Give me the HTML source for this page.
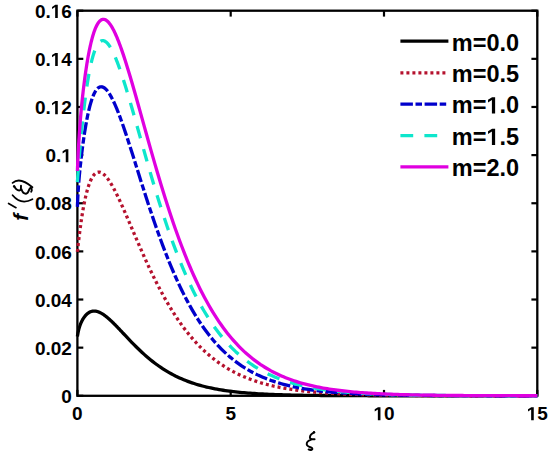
<!DOCTYPE html>
<html><head><meta charset="utf-8"><style>
html,body{margin:0;padding:0;background:#fff;}
svg{display:block;}
.tk{font-family:"Liberation Sans",sans-serif;font-weight:bold;font-size:19px;fill:#000;}
.one{fill:none;}
.lg{font-family:"Liberation Sans",sans-serif;font-weight:bold;font-size:23.5px;fill:#000;}
.xl{font-family:"Liberation Serif",serif;font-style:italic;font-size:21px;fill:#000;}
.yl{font-family:"Liberation Serif",serif;font-size:21px;fill:#000;}
</style></head><body>
<svg width="550" height="459" viewBox="0 0 550 459">
<rect width="550" height="459" fill="#fff"/>
<rect x="77.4" y="10.7" width="459.90" height="385.10" fill="none" stroke="#000" stroke-width="2.3"/>
<line x1="77.4" y1="395.80" x2="83.30000000000001" y2="395.80" stroke="#000" stroke-width="2.2"/>
<line x1="537.3" y1="395.80" x2="531.4" y2="395.80" stroke="#000" stroke-width="2.2"/>
<line x1="77.4" y1="347.66" x2="83.30000000000001" y2="347.66" stroke="#000" stroke-width="2.2"/>
<line x1="537.3" y1="347.66" x2="531.4" y2="347.66" stroke="#000" stroke-width="2.2"/>
<line x1="77.4" y1="299.52" x2="83.30000000000001" y2="299.52" stroke="#000" stroke-width="2.2"/>
<line x1="537.3" y1="299.52" x2="531.4" y2="299.52" stroke="#000" stroke-width="2.2"/>
<line x1="77.4" y1="251.39" x2="83.30000000000001" y2="251.39" stroke="#000" stroke-width="2.2"/>
<line x1="537.3" y1="251.39" x2="531.4" y2="251.39" stroke="#000" stroke-width="2.2"/>
<line x1="77.4" y1="203.25" x2="83.30000000000001" y2="203.25" stroke="#000" stroke-width="2.2"/>
<line x1="537.3" y1="203.25" x2="531.4" y2="203.25" stroke="#000" stroke-width="2.2"/>
<line x1="77.4" y1="155.11" x2="83.30000000000001" y2="155.11" stroke="#000" stroke-width="2.2"/>
<line x1="537.3" y1="155.11" x2="531.4" y2="155.11" stroke="#000" stroke-width="2.2"/>
<line x1="77.4" y1="106.97" x2="83.30000000000001" y2="106.97" stroke="#000" stroke-width="2.2"/>
<line x1="537.3" y1="106.97" x2="531.4" y2="106.97" stroke="#000" stroke-width="2.2"/>
<line x1="77.4" y1="58.84" x2="83.30000000000001" y2="58.84" stroke="#000" stroke-width="2.2"/>
<line x1="537.3" y1="58.84" x2="531.4" y2="58.84" stroke="#000" stroke-width="2.2"/>
<line x1="77.4" y1="10.70" x2="83.30000000000001" y2="10.70" stroke="#000" stroke-width="2.2"/>
<line x1="537.3" y1="10.70" x2="531.4" y2="10.70" stroke="#000" stroke-width="2.2"/>
<line x1="77.40" y1="395.8" x2="77.40" y2="389.90000000000003" stroke="#000" stroke-width="2.2"/>
<line x1="77.40" y1="10.7" x2="77.40" y2="16.6" stroke="#000" stroke-width="2.2"/>
<line x1="230.70" y1="395.8" x2="230.70" y2="389.90000000000003" stroke="#000" stroke-width="2.2"/>
<line x1="230.70" y1="10.7" x2="230.70" y2="16.6" stroke="#000" stroke-width="2.2"/>
<line x1="384.00" y1="395.8" x2="384.00" y2="389.90000000000003" stroke="#000" stroke-width="2.2"/>
<line x1="384.00" y1="10.7" x2="384.00" y2="16.6" stroke="#000" stroke-width="2.2"/>
<line x1="537.30" y1="395.8" x2="537.30" y2="389.90000000000003" stroke="#000" stroke-width="2.2"/>
<line x1="537.30" y1="10.7" x2="537.30" y2="16.6" stroke="#000" stroke-width="2.2"/>
<text x="71.9" y="403.00" text-anchor="end" class="tk">0</text>
<text x="71.9" y="354.86" text-anchor="end" class="tk">0.02</text>
<text x="71.9" y="306.72" text-anchor="end" class="tk">0.04</text>
<text x="71.9" y="258.59" text-anchor="end" class="tk">0.06</text>
<text x="71.9" y="210.45" text-anchor="end" class="tk">0.08</text>
<text x="71.9" y="162.31" text-anchor="end" class="tk">0.<tspan class="one">1</tspan></text>
<text x="71.9" y="114.17" text-anchor="end" class="tk">0.<tspan class="one">1</tspan>2</text>
<text x="71.9" y="66.04" text-anchor="end" class="tk">0.<tspan class="one">1</tspan>4</text>
<text x="71.9" y="17.90" text-anchor="end" class="tk">0.<tspan class="one">1</tspan>6</text>
<text x="77.40" y="420.3" text-anchor="middle" class="tk">0</text>
<text x="230.70" y="420.3" text-anchor="middle" class="tk">5</text>
<text x="384.00" y="420.3" text-anchor="middle" class="tk"><tspan class="one">1</tspan>0</text>
<text x="537.30" y="420.3" text-anchor="middle" class="tk"><tspan class="one">1</tspan>5</text>
<polyline points="77.40,336.61 77.48,336.09 77.55,335.58 77.63,335.10 77.71,334.63 77.78,334.17 77.86,333.74 77.94,333.31 78.01,332.90 78.09,332.51 78.17,332.12 78.24,331.75 78.32,331.39 78.40,331.04 78.47,330.70 78.55,330.36 78.63,330.04 78.70,329.73 78.78,329.42 78.86,329.12 78.93,328.83 79.01,328.55 79.09,328.27 79.16,328.00 79.24,327.74 79.32,327.48 79.39,327.23 79.47,326.98 79.55,326.74 79.62,326.50 79.70,326.27 79.78,326.04 79.85,325.82 79.93,325.60 80.01,325.38 80.08,325.17 80.16,324.96 80.24,324.75 80.31,324.55 80.39,324.36 80.47,324.16 80.90,323.12 81.32,322.17 81.75,321.28 82.18,320.45 82.61,319.67 83.04,318.94 83.47,318.25 83.90,317.61 84.33,317.00 84.76,316.43 85.19,315.90 85.62,315.40 86.05,314.93 86.48,314.49 86.90,314.09 87.33,313.71 87.76,313.36 88.19,313.04 88.62,312.75 89.05,312.48 89.48,312.24 89.91,312.02 90.34,311.83 90.77,311.66 91.20,311.51 91.63,311.38 92.06,311.28 92.48,311.20 92.91,311.14 93.34,311.09 93.77,311.07 94.20,311.07 94.63,311.08 95.06,311.11 95.49,311.16 95.92,311.22 96.35,311.31 96.78,311.40 97.21,311.51 97.64,311.64 98.06,311.78 98.49,311.94 98.92,312.10 99.35,312.28 99.78,312.48 100.21,312.68 100.64,312.90 101.07,313.13 101.50,313.37 101.93,313.62 102.36,313.88 102.79,314.15 103.22,314.43 103.64,314.71 104.07,315.01 104.50,315.32 104.93,315.63 105.36,315.95 105.79,316.28 106.22,316.62 106.65,316.97 107.08,317.32 107.51,317.67 107.94,318.04 108.37,318.41 108.80,318.78 109.23,319.16 109.65,319.55 110.08,319.94 110.51,320.34 110.94,320.74 111.37,321.14 111.80,321.55 112.23,321.96 112.66,322.38 113.09,322.80 113.52,323.22 113.95,323.65 114.38,324.08 114.81,324.51 115.23,324.95 115.66,325.39 116.09,325.83 116.52,326.27 116.95,326.71 117.38,327.16 117.81,327.61 118.24,328.05 118.67,328.50 119.10,328.96 119.53,329.41 119.96,329.86 120.39,330.32 120.81,330.77 121.24,331.23 121.67,331.69 122.10,332.14 122.53,332.60 122.96,333.06 123.39,333.51 125.47,335.73 127.55,337.93 129.63,340.12 131.71,342.28 133.79,344.40 135.87,346.48 137.95,348.53 140.03,350.52 142.11,352.46 144.19,354.35 146.27,356.18 148.35,357.96 150.43,359.68 152.51,361.34 154.59,362.95 156.67,364.49 158.75,365.98 160.83,367.41 162.91,368.79 164.99,370.11 167.07,371.38 169.15,372.59 171.23,373.75 173.31,374.86 175.39,375.93 177.47,376.94 179.55,377.91 181.63,378.84 183.71,379.72 185.79,380.56 187.87,381.37 189.95,382.13 192.03,382.86 194.11,383.55 196.19,384.21 198.27,384.83 200.35,385.42 202.43,385.99 204.51,386.52 206.59,387.03 208.67,387.51 210.75,387.97 212.83,388.41 214.91,388.82 216.99,389.21 219.07,389.57 221.15,389.92 223.23,390.25 225.31,390.57 227.39,390.86 229.47,391.14 231.55,391.41 233.63,391.66 235.71,391.90 237.79,392.12 239.87,392.33 241.95,392.53 244.03,392.72 246.11,392.90 248.19,393.07 250.27,393.22 252.35,393.37 254.43,393.52 256.51,393.65 258.59,393.78 260.67,393.89 262.75,394.01 264.83,394.11 266.91,394.21 268.99,394.30 271.07,394.39 273.15,394.48 275.23,394.56 277.31,394.63 279.39,394.70 281.47,394.76 283.55,394.83 285.63,394.88 287.71,394.94 289.79,394.99 291.87,395.04 293.95,395.09 296.03,395.13 298.11,395.17 300.19,395.21 302.27,395.24 304.35,395.28 306.43,395.31 308.51,395.34 310.59,395.37 312.67,395.39 314.75,395.42 316.83,395.44 318.91,395.46 320.99,395.48 323.07,395.50 325.15,395.52 327.23,395.54 329.31,395.55 331.38,395.57 333.46,395.58 335.54,395.60 337.62,395.61 339.70,395.62 341.78,395.63 343.86,395.64 345.94,395.65 348.02,395.66 350.10,395.67 352.18,395.68 354.26,395.69 356.34,395.69 358.42,395.70 360.50,395.71 362.58,395.71 364.66,395.72 366.74,395.72 368.82,395.73 370.90,395.73 372.98,395.74 375.06,395.74 377.14,395.74 379.22,395.75 381.30,395.75 383.38,395.75 385.46,395.76 387.54,395.76 389.62,395.76 391.70,395.76 393.78,395.77 395.86,395.77 397.94,395.77 400.02,395.77 402.10,395.77 404.18,395.78 406.26,395.78 408.34,395.78 410.42,395.78 412.50,395.78 414.58,395.78 416.66,395.78 418.74,395.78 420.82,395.79 422.90,395.79 424.98,395.79 427.06,395.79 429.14,395.79 431.22,395.79 433.30,395.79 435.38,395.79 437.46,395.79 439.54,395.79 441.62,395.79 443.70,395.79 445.78,395.79 447.86,395.79 449.94,395.79 452.02,395.79 454.10,395.79 456.18,395.80 458.26,395.80 460.34,395.80 462.42,395.80 464.50,395.80 466.58,395.80 468.66,395.80 470.74,395.80 472.82,395.80 474.90,395.80 476.98,395.80 479.06,395.80 481.14,395.80 483.22,395.80 485.30,395.80 487.38,395.80 489.46,395.80 491.54,395.80 493.62,395.80 495.70,395.80 497.78,395.80 499.86,395.80 501.94,395.80 504.02,395.80 506.10,395.80 508.18,395.80 510.26,395.80 512.34,395.80 514.42,395.80 516.50,395.80 518.58,395.80 520.66,395.80 522.74,395.80 524.82,395.80 526.90,395.80 528.98,395.80 531.06,395.80 533.14,395.80 535.22,395.80 537.30,395.80" fill="none" stroke="#000000" stroke-width="3.3" stroke-linejoin="round"/>
<polyline points="77.40,251.91 77.48,251.18 77.55,250.45 77.63,249.73 77.71,249.02 77.78,248.31 77.86,247.60 77.94,246.90 78.01,246.21 78.09,245.51 78.17,244.83 78.24,244.14 78.32,243.47 78.40,242.79 78.47,242.12 78.55,241.46 78.63,240.80 78.70,240.14 78.78,239.49 78.86,238.84 78.93,238.20 79.01,237.56 79.09,236.93 79.16,236.30 79.24,235.67 79.32,235.05 79.39,234.43 79.47,233.82 79.55,233.21 79.62,232.61 79.70,232.01 79.78,231.41 79.85,230.82 79.93,230.23 80.01,229.65 80.08,229.07 80.16,228.49 80.24,227.92 80.31,227.35 80.39,226.79 80.47,226.23 80.90,223.16 81.32,220.22 81.75,217.39 82.18,214.68 82.61,212.08 83.04,209.59 83.47,207.20 83.90,204.91 84.33,202.73 84.76,200.64 85.19,198.64 85.62,196.74 86.05,194.92 86.48,193.20 86.90,191.56 87.33,190.00 87.76,188.52 88.19,187.12 88.62,185.79 89.05,184.54 89.48,183.36 89.91,182.25 90.34,181.21 90.77,180.23 91.20,179.32 91.63,178.47 92.06,177.69 92.48,176.96 92.91,176.29 93.34,175.67 93.77,175.11 94.20,174.61 94.63,174.15 95.06,173.75 95.49,173.39 95.92,173.08 96.35,172.82 96.78,172.60 97.21,172.42 97.64,172.29 98.06,172.20 98.49,172.15 98.92,172.13 99.35,172.15 99.78,172.21 100.21,172.31 100.64,172.44 101.07,172.60 101.50,172.80 101.93,173.03 102.36,173.28 102.79,173.57 103.22,173.89 103.64,174.23 104.07,174.60 104.50,175.00 104.93,175.42 105.36,175.86 105.79,176.33 106.22,176.83 106.65,177.34 107.08,177.88 107.51,178.43 107.94,179.01 108.37,179.61 108.80,180.23 109.23,180.86 109.65,181.51 110.08,182.18 110.51,182.87 110.94,183.57 111.37,184.28 111.80,185.02 112.23,185.76 112.66,186.52 113.09,187.29 113.52,188.08 113.95,188.88 114.38,189.69 114.81,190.51 115.23,191.34 115.66,192.18 116.09,193.03 116.52,193.89 116.95,194.77 117.38,195.65 117.81,196.53 118.24,197.43 118.67,198.34 119.10,199.25 119.53,200.17 119.96,201.09 120.39,202.02 120.81,202.96 121.24,203.90 121.67,204.85 122.10,205.81 122.53,206.77 122.96,207.73 123.39,208.70 125.47,213.44 127.55,218.25 129.63,223.10 131.71,227.98 133.79,232.85 135.87,237.71 137.95,242.54 140.03,247.32 142.11,252.05 144.19,256.72 146.27,261.31 148.35,265.83 150.43,270.26 152.51,274.60 154.59,278.85 156.67,283.00 158.75,287.05 160.83,291.00 162.91,294.85 164.99,298.60 167.07,302.24 169.15,305.78 171.23,309.21 173.31,312.54 175.39,315.77 177.47,318.89 179.55,321.92 181.63,324.85 183.71,327.68 185.79,330.42 187.87,333.06 189.95,335.61 192.03,338.08 194.11,340.45 196.19,342.74 198.27,344.95 200.35,347.07 202.43,349.12 204.51,351.09 206.59,352.99 208.67,354.81 210.75,356.57 212.83,358.25 214.91,359.87 216.99,361.43 219.07,362.93 221.15,364.36 223.23,365.74 225.31,367.06 227.39,368.33 229.47,369.55 231.55,370.72 233.63,371.84 235.71,372.91 237.79,373.94 239.87,374.92 241.95,375.87 244.03,376.77 246.11,377.63 248.19,378.46 250.27,379.25 252.35,380.01 254.43,380.74 256.51,381.43 258.59,382.09 260.67,382.73 262.75,383.33 264.83,383.91 266.91,384.47 268.99,385.00 271.07,385.50 273.15,385.99 275.23,386.45 277.31,386.89 279.39,387.31 281.47,387.71 283.55,388.10 285.63,388.46 287.71,388.81 289.79,389.15 291.87,389.46 293.95,389.77 296.03,390.06 298.11,390.33 300.19,390.60 302.27,390.85 304.35,391.09 306.43,391.31 308.51,391.53 310.59,391.74 312.67,391.94 314.75,392.12 316.83,392.30 318.91,392.47 320.99,392.64 323.07,392.79 325.15,392.94 327.23,393.08 329.31,393.21 331.38,393.34 333.46,393.46 335.54,393.58 337.62,393.69 339.70,393.79 341.78,393.89 343.86,393.99 345.94,394.08 348.02,394.16 350.10,394.24 352.18,394.32 354.26,394.40 356.34,394.47 358.42,394.53 360.50,394.60 362.58,394.66 364.66,394.71 366.74,394.77 368.82,394.82 370.90,394.87 372.98,394.92 375.06,394.96 377.14,395.00 379.22,395.04 381.30,395.08 383.38,395.12 385.46,395.15 387.54,395.19 389.62,395.22 391.70,395.25 393.78,395.28 395.86,395.30 397.94,395.33 400.02,395.35 402.10,395.38 404.18,395.40 406.26,395.42 408.34,395.44 410.42,395.46 412.50,395.47 414.58,395.49 416.66,395.51 418.74,395.52 420.82,395.54 422.90,395.55 424.98,395.56 427.06,395.57 429.14,395.59 431.22,395.60 433.30,395.61 435.38,395.62 437.46,395.63 439.54,395.64 441.62,395.64 443.70,395.65 445.78,395.66 447.86,395.67 449.94,395.67 452.02,395.68 454.10,395.69 456.18,395.69 458.26,395.70 460.34,395.70 462.42,395.71 464.50,395.71 466.58,395.72 468.66,395.72 470.74,395.73 472.82,395.73 474.90,395.73 476.98,395.74 479.06,395.74 481.14,395.74 483.22,395.75 485.30,395.75 487.38,395.75 489.46,395.75 491.54,395.76 493.62,395.76 495.70,395.76 497.78,395.76 499.86,395.77 501.94,395.77 504.02,395.77 506.10,395.77 508.18,395.77 510.26,395.77 512.34,395.78 514.42,395.78 516.50,395.78 518.58,395.78 520.66,395.78 522.74,395.78 524.82,395.78 526.90,395.78 528.98,395.78 531.06,395.78 533.14,395.79 535.22,395.79 537.30,395.79" fill="none" stroke="#b5122e" stroke-width="3.3" stroke-linejoin="round" stroke-dasharray="3 3"/>
<polyline points="77.40,206.87 77.48,204.94 77.55,203.10 77.63,201.36 77.71,199.71 77.78,198.13 77.86,196.63 77.94,195.19 78.01,193.82 78.09,192.49 78.17,191.22 78.24,189.99 78.32,188.81 78.40,187.67 78.47,186.56 78.55,185.48 78.63,184.43 78.70,183.41 78.78,182.42 78.86,181.45 78.93,180.50 79.01,179.58 79.09,178.67 79.16,177.78 79.24,176.90 79.32,176.04 79.39,175.20 79.47,174.36 79.55,173.54 79.62,172.74 79.70,171.94 79.78,171.15 79.85,170.37 79.93,169.61 80.01,168.85 80.08,168.09 80.16,167.35 80.24,166.61 80.31,165.89 80.39,165.16 80.47,164.45 80.90,160.55 81.32,156.83 81.75,153.25 82.18,149.80 82.61,146.48 83.04,143.27 83.47,140.19 83.90,137.21 84.33,134.34 84.76,131.58 85.19,128.92 85.62,126.36 86.05,123.91 86.48,121.55 86.90,119.28 87.33,117.11 87.76,115.03 88.19,113.03 88.62,111.13 89.05,109.31 89.48,107.58 89.91,105.92 90.34,104.35 90.77,102.86 91.20,101.44 91.63,100.10 92.06,98.84 92.48,97.64 92.91,96.52 93.34,95.47 93.77,94.48 94.20,93.56 94.63,92.71 95.06,91.92 95.49,91.19 95.92,90.52 96.35,89.91 96.78,89.36 97.21,88.87 97.64,88.43 98.06,88.04 98.49,87.71 98.92,87.43 99.35,87.20 99.78,87.02 100.21,86.89 100.64,86.81 101.07,86.77 101.50,86.78 101.93,86.83 102.36,86.92 102.79,87.06 103.22,87.23 103.64,87.45 104.07,87.70 104.50,87.99 104.93,88.32 105.36,88.69 105.79,89.09 106.22,89.52 106.65,89.99 107.08,90.49 107.51,91.03 107.94,91.59 108.37,92.18 108.80,92.80 109.23,93.45 109.65,94.13 110.08,94.84 110.51,95.57 110.94,96.33 111.37,97.11 111.80,97.91 112.23,98.74 112.66,99.59 113.09,100.47 113.52,101.36 113.95,102.28 114.38,103.21 114.81,104.17 115.23,105.14 115.66,106.14 116.09,107.15 116.52,108.17 116.95,109.22 117.38,110.28 117.81,111.35 118.24,112.44 118.67,113.55 119.10,114.67 119.53,115.80 119.96,116.95 120.39,118.10 120.81,119.27 121.24,120.46 121.67,121.65 122.10,122.85 122.53,124.07 122.96,125.29 123.39,126.52 125.47,132.62 127.55,138.89 129.63,145.30 131.71,151.80 133.79,158.36 135.87,164.96 137.95,171.58 140.03,178.19 142.11,184.76 144.19,191.29 146.27,197.75 148.35,204.14 150.43,210.43 152.51,216.63 154.59,222.72 156.67,228.70 158.75,234.55 160.83,240.27 162.91,245.86 164.99,251.32 167.07,256.64 169.15,261.82 171.23,266.86 173.31,271.76 175.39,276.51 177.47,281.13 179.55,285.60 181.63,289.93 183.71,294.13 185.79,298.19 187.87,302.12 189.95,305.91 192.03,309.58 194.11,313.12 196.19,316.53 198.27,319.82 200.35,322.99 202.43,326.05 204.51,328.99 206.59,331.83 208.67,334.56 210.75,337.18 212.83,339.70 214.91,342.13 216.99,344.46 219.07,346.69 221.15,348.84 223.23,350.90 225.31,352.88 227.39,354.78 229.47,356.61 231.55,358.35 233.63,360.03 235.71,361.63 237.79,363.17 239.87,364.64 241.95,366.05 244.03,367.41 246.11,368.70 248.19,369.94 250.27,371.12 252.35,372.25 254.43,373.34 256.51,374.37 258.59,375.37 260.67,376.31 262.75,377.22 264.83,378.09 266.91,378.91 268.99,379.70 271.07,380.46 273.15,381.18 275.23,381.87 277.31,382.52 279.39,383.15 281.47,383.75 283.55,384.32 285.63,384.87 287.71,385.39 289.79,385.89 291.87,386.36 293.95,386.81 296.03,387.24 298.11,387.65 300.19,388.05 302.27,388.42 304.35,388.78 306.43,389.11 308.51,389.44 310.59,389.75 312.67,390.04 314.75,390.32 316.83,390.59 318.91,390.84 320.99,391.08 323.07,391.31 325.15,391.53 327.23,391.74 329.31,391.94 331.38,392.13 333.46,392.31 335.54,392.48 337.62,392.65 339.70,392.80 341.78,392.95 343.86,393.09 345.94,393.22 348.02,393.35 350.10,393.47 352.18,393.59 354.26,393.70 356.34,393.80 358.42,393.90 360.50,394.00 362.58,394.09 364.66,394.17 366.74,394.25 368.82,394.33 370.90,394.41 372.98,394.47 375.06,394.54 377.14,394.60 379.22,394.66 381.30,394.72 383.38,394.78 385.46,394.83 387.54,394.88 389.62,394.92 391.70,394.97 393.78,395.01 395.86,395.05 397.94,395.09 400.02,395.12 402.10,395.16 404.18,395.19 406.26,395.22 408.34,395.25 410.42,395.28 412.50,395.31 414.58,395.33 416.66,395.35 418.74,395.38 420.82,395.40 422.90,395.42 424.98,395.44 427.06,395.46 429.14,395.47 431.22,395.49 433.30,395.51 435.38,395.52 437.46,395.54 439.54,395.55 441.62,395.56 443.70,395.57 445.78,395.59 447.86,395.60 449.94,395.61 452.02,395.62 454.10,395.63 456.18,395.64 458.26,395.64 460.34,395.65 462.42,395.66 464.50,395.67 466.58,395.67 468.66,395.68 470.74,395.69 472.82,395.69 474.90,395.70 476.98,395.70 479.06,395.71 481.14,395.71 483.22,395.72 485.30,395.72 487.38,395.73 489.46,395.73 491.54,395.73 493.62,395.74 495.70,395.74 497.78,395.74 499.86,395.75 501.94,395.75 504.02,395.75 506.10,395.75 508.18,395.76 510.26,395.76 512.34,395.76 514.42,395.76 516.50,395.76 518.58,395.77 520.66,395.77 522.74,395.77 524.82,395.77 526.90,395.77 528.98,395.77 531.06,395.78 533.14,395.78 535.22,395.78 537.30,395.78" fill="none" stroke="#0000cc" stroke-width="3.3" stroke-linejoin="round" stroke-dasharray="12.5 2.6 6.5 2.6"/>
<polyline points="77.40,182.03 77.48,180.96 77.55,179.89 77.63,178.82 77.71,177.77 77.78,176.71 77.86,175.67 77.94,174.63 78.01,173.59 78.09,172.56 78.17,171.54 78.24,170.52 78.32,169.51 78.40,168.50 78.47,167.50 78.55,166.50 78.63,165.51 78.70,164.52 78.78,163.54 78.86,162.56 78.93,161.59 79.01,160.63 79.09,159.67 79.16,158.72 79.24,157.77 79.32,156.82 79.39,155.88 79.47,154.95 79.55,154.02 79.62,153.10 79.70,152.18 79.78,151.27 79.85,150.36 79.93,149.46 80.01,148.56 80.08,147.67 80.16,146.78 80.24,145.90 80.31,145.02 80.39,144.15 80.47,143.28 80.90,138.51 81.32,133.89 81.75,129.42 82.18,125.10 82.61,120.92 83.04,116.87 83.47,112.96 83.90,109.19 84.33,105.55 84.76,102.03 85.19,98.64 85.62,95.38 86.05,92.23 86.48,89.20 86.90,86.29 87.33,83.48 87.76,80.79 88.19,78.21 88.62,75.73 89.05,73.36 89.48,71.09 89.91,68.91 90.34,66.84 90.77,64.86 91.20,62.97 91.63,61.17 92.06,59.46 92.48,57.84 92.91,56.30 93.34,54.85 93.77,53.48 94.20,52.19 94.63,50.97 95.06,49.84 95.49,48.77 95.92,47.79 96.35,46.87 96.78,46.02 97.21,45.24 97.64,44.52 98.06,43.88 98.49,43.29 98.92,42.77 99.35,42.31 99.78,41.90 100.21,41.56 100.64,41.27 101.07,41.04 101.50,40.86 101.93,40.74 102.36,40.66 102.79,40.64 103.22,40.67 103.64,40.74 104.07,40.86 104.50,41.03 104.93,41.24 105.36,41.49 105.79,41.79 106.22,42.13 106.65,42.51 107.08,42.93 107.51,43.38 107.94,43.88 108.37,44.41 108.80,44.97 109.23,45.57 109.65,46.21 110.08,46.88 110.51,47.57 110.94,48.30 111.37,49.07 111.80,49.86 112.23,50.67 112.66,51.52 113.09,52.39 113.52,53.29 113.95,54.22 114.38,55.17 114.81,56.15 115.23,57.14 115.66,58.16 116.09,59.21 116.52,60.27 116.95,61.36 117.38,62.46 117.81,63.59 118.24,64.73 118.67,65.89 119.10,67.07 119.53,68.27 119.96,69.48 120.39,70.71 120.81,71.96 121.24,73.22 121.67,74.49 122.10,75.78 122.53,77.08 122.96,78.40 123.39,79.72 125.47,86.32 127.55,93.14 129.63,100.15 131.71,107.30 133.79,114.56 135.87,121.89 137.95,129.27 140.03,136.66 142.11,144.04 144.19,151.40 146.27,158.70 148.35,165.94 150.43,173.10 152.51,180.17 154.59,187.13 156.67,193.98 158.75,200.70 160.83,207.29 162.91,213.75 164.99,220.06 167.07,226.24 169.15,232.26 171.23,238.13 173.31,243.85 175.39,249.42 177.47,254.83 179.55,260.09 181.63,265.20 183.71,270.15 185.79,274.96 187.87,279.61 189.95,284.12 192.03,288.48 194.11,292.70 196.19,296.78 198.27,300.73 200.35,304.54 202.43,308.21 204.51,311.76 206.59,315.18 208.67,318.48 210.75,321.66 212.83,324.72 214.91,327.68 216.99,330.52 219.07,333.25 221.15,335.88 223.23,338.41 225.31,340.84 227.39,343.18 229.47,345.43 231.55,347.59 233.63,349.66 235.71,351.66 237.79,353.57 239.87,355.40 241.95,357.16 244.03,358.85 246.11,360.47 248.19,362.02 250.27,363.51 252.35,364.94 254.43,366.31 256.51,367.62 258.59,368.88 260.67,370.08 262.75,371.23 264.83,372.33 266.91,373.39 268.99,374.40 271.07,375.37 273.15,376.29 275.23,377.18 277.31,378.02 279.39,378.83 281.47,379.61 283.55,380.35 285.63,381.06 287.71,381.73 289.79,382.38 291.87,383.00 293.95,383.59 296.03,384.16 298.11,384.70 300.19,385.21 302.27,385.70 304.35,386.17 306.43,386.62 308.51,387.05 310.59,387.46 312.67,387.85 314.75,388.22 316.83,388.58 318.91,388.92 320.99,389.24 323.07,389.55 325.15,389.85 327.23,390.13 329.31,390.40 331.38,390.65 333.46,390.90 335.54,391.13 337.62,391.35 339.70,391.56 341.78,391.77 343.86,391.96 345.94,392.14 348.02,392.32 350.10,392.48 352.18,392.64 354.26,392.79 356.34,392.94 358.42,393.08 360.50,393.21 362.58,393.33 364.66,393.45 366.74,393.56 368.82,393.67 370.90,393.78 372.98,393.87 375.06,393.97 377.14,394.06 379.22,394.14 381.30,394.22 383.38,394.30 385.46,394.37 387.54,394.44 389.62,394.51 391.70,394.57 393.78,394.63 395.86,394.69 397.94,394.74 400.02,394.79 402.10,394.84 404.18,394.89 406.26,394.93 408.34,394.98 410.42,395.02 412.50,395.06 414.58,395.09 416.66,395.13 418.74,395.16 420.82,395.19 422.90,395.22 424.98,395.25 427.06,395.28 429.14,395.30 431.22,395.33 433.30,395.35 435.38,395.37 437.46,395.39 439.54,395.41 441.62,395.43 443.70,395.45 445.78,395.47 447.86,395.49 449.94,395.50 452.02,395.52 454.10,395.53 456.18,395.54 458.26,395.56 460.34,395.57 462.42,395.58 464.50,395.59 466.58,395.60 468.66,395.61 470.74,395.62 472.82,395.63 474.90,395.64 476.98,395.65 479.06,395.65 481.14,395.66 483.22,395.67 485.30,395.67 487.38,395.68 489.46,395.69 491.54,395.69 493.62,395.70 495.70,395.70 497.78,395.71 499.86,395.71 501.94,395.72 504.02,395.72 506.10,395.73 508.18,395.73 510.26,395.73 512.34,395.74 514.42,395.74 516.50,395.74 518.58,395.75 520.66,395.75 522.74,395.75 524.82,395.75 526.90,395.76 528.98,395.76 531.06,395.76 533.14,395.76 535.22,395.76 537.30,395.77" fill="none" stroke="#0ee6cc" stroke-width="3.3" stroke-linejoin="round" stroke-dasharray="12.8 11.2"/>
<polyline points="77.40,170.96 77.48,169.04 77.55,167.17 77.63,165.34 77.71,163.56 77.78,161.82 77.86,160.12 77.94,158.47 78.01,156.85 78.09,155.27 78.17,153.73 78.24,152.22 78.32,150.74 78.40,149.29 78.47,147.87 78.55,146.49 78.63,145.13 78.70,143.79 78.78,142.49 78.86,141.20 78.93,139.94 79.01,138.71 79.09,137.49 79.16,136.30 79.24,135.13 79.32,133.97 79.39,132.84 79.47,131.72 79.55,130.62 79.62,129.54 79.70,128.48 79.78,127.43 79.85,126.39 79.93,125.37 80.01,124.37 80.08,123.38 80.16,122.40 80.24,121.43 80.31,120.48 80.39,119.54 80.47,118.61 80.90,113.60 81.32,108.90 81.75,104.45 82.18,100.23 82.61,96.20 83.04,92.36 83.47,88.67 83.90,85.13 84.33,81.73 84.76,78.46 85.19,75.32 85.62,72.28 86.05,69.37 86.48,66.55 86.90,63.85 87.33,61.24 87.76,58.73 88.19,56.32 88.62,54.01 89.05,51.78 89.48,49.64 89.91,47.59 90.34,45.63 90.77,43.75 91.20,41.95 91.63,40.24 92.06,38.60 92.48,37.04 92.91,35.56 93.34,34.15 93.77,32.81 94.20,31.55 94.63,30.36 95.06,29.23 95.49,28.18 95.92,27.19 96.35,26.26 96.78,25.40 97.21,24.60 97.64,23.87 98.06,23.19 98.49,22.57 98.92,22.01 99.35,21.51 99.78,21.06 100.21,20.67 100.64,20.33 101.07,20.04 101.50,19.80 101.93,19.62 102.36,19.48 102.79,19.39 103.22,19.34 103.64,19.35 104.07,19.39 104.50,19.49 104.93,19.62 105.36,19.80 105.79,20.02 106.22,20.27 106.65,20.57 107.08,20.91 107.51,21.28 107.94,21.69 108.37,22.14 108.80,22.62 109.23,23.14 109.65,23.69 110.08,24.27 110.51,24.89 110.94,25.53 111.37,26.21 111.80,26.92 112.23,27.65 112.66,28.41 113.09,29.21 113.52,30.03 113.95,30.87 114.38,31.74 114.81,32.64 115.23,33.56 115.66,34.50 116.09,35.47 116.52,36.46 116.95,37.47 117.38,38.50 117.81,39.56 118.24,40.63 118.67,41.72 119.10,42.83 119.53,43.97 119.96,45.11 120.39,46.28 120.81,47.46 121.24,48.66 121.67,49.88 122.10,51.11 122.53,52.36 122.96,53.62 123.39,54.89 125.47,61.26 127.55,67.89 129.63,74.75 131.71,81.80 133.79,88.99 135.87,96.30 137.95,103.69 140.03,111.13 142.11,118.61 144.19,126.08 146.27,133.55 148.35,140.98 150.43,148.36 152.51,155.67 154.59,162.90 156.67,170.05 158.75,177.09 160.83,184.02 162.91,190.83 164.99,197.52 167.07,204.08 169.15,210.50 171.23,216.79 173.31,222.93 175.39,228.92 177.47,234.77 179.55,240.48 181.63,246.03 183.71,251.43 185.79,256.69 187.87,261.80 189.95,266.76 192.03,271.57 194.11,276.24 196.19,280.76 198.27,285.15 200.35,289.40 202.43,293.51 204.51,297.48 206.59,301.33 208.67,305.05 210.75,308.64 212.83,312.11 214.91,315.45 216.99,318.68 219.07,321.80 221.15,324.80 223.23,327.70 225.31,330.49 227.39,333.18 229.47,335.77 231.55,338.26 233.63,340.66 235.71,342.97 237.79,345.19 239.87,347.32 241.95,349.37 244.03,351.35 246.11,353.24 248.19,355.06 250.27,356.81 252.35,358.49 254.43,360.10 256.51,361.65 258.59,363.13 260.67,364.56 262.75,365.92 264.83,367.23 266.91,368.49 268.99,369.69 271.07,370.85 273.15,371.95 275.23,373.01 277.31,374.03 279.39,375.00 281.47,375.93 283.55,376.82 285.63,377.68 287.71,378.49 289.79,379.28 291.87,380.02 293.95,380.74 296.03,381.42 298.11,382.08 300.19,382.71 302.27,383.31 304.35,383.88 306.43,384.43 308.51,384.95 310.59,385.45 312.67,385.93 314.75,386.38 316.83,386.82 318.91,387.24 320.99,387.64 323.07,388.02 325.15,388.38 327.23,388.73 329.31,389.06 331.38,389.37 333.46,389.67 335.54,389.96 337.62,390.24 339.70,390.50 341.78,390.75 343.86,390.99 345.94,391.22 348.02,391.43 350.10,391.64 352.18,391.84 354.26,392.03 356.34,392.21 358.42,392.38 360.50,392.54 362.58,392.70 364.66,392.85 366.74,392.99 368.82,393.12 370.90,393.25 372.98,393.38 375.06,393.49 377.14,393.60 379.22,393.71 381.30,393.81 383.38,393.91 385.46,394.00 387.54,394.09 389.62,394.17 391.70,394.25 393.78,394.32 395.86,394.40 397.94,394.47 400.02,394.53 402.10,394.59 404.18,394.65 406.26,394.71 408.34,394.76 410.42,394.81 412.50,394.86 414.58,394.91 416.66,394.95 418.74,394.99 420.82,395.03 422.90,395.07 424.98,395.11 427.06,395.14 429.14,395.17 431.22,395.20 433.30,395.23 435.38,395.26 437.46,395.29 439.54,395.31 441.62,395.34 443.70,395.36 445.78,395.38 447.86,395.40 449.94,395.42 452.02,395.44 454.10,395.46 456.18,395.48 458.26,395.49 460.34,395.51 462.42,395.52 464.50,395.54 466.58,395.55 468.66,395.56 470.74,395.57 472.82,395.59 474.90,395.60 476.98,395.61 479.06,395.62 481.14,395.63 483.22,395.63 485.30,395.64 487.38,395.65 489.46,395.66 491.54,395.67 493.62,395.67 495.70,395.68 497.78,395.69 499.86,395.69 501.94,395.70 504.02,395.70 506.10,395.71 508.18,395.71 510.26,395.72 512.34,395.72 514.42,395.72 516.50,395.73 518.58,395.73 520.66,395.74 522.74,395.74 524.82,395.74 526.90,395.74 528.98,395.75 531.06,395.75 533.14,395.75 535.22,395.76 537.30,395.76" fill="none" stroke="#e000e0" stroke-width="3.3" stroke-linejoin="round"/>
<line x1="400.4" y1="41.2" x2="448.4" y2="41.2" stroke="#000000" stroke-width="3.3"/>
<text x="451.8" y="50.50" class="lg">m=0.0</text>
<line x1="400.4" y1="72.9" x2="448.4" y2="72.9" stroke="#b5122e" stroke-width="3.3" stroke-dasharray="3 3"/>
<text x="451.8" y="82.20" class="lg">m=0.5</text>
<line x1="400.4" y1="104.1" x2="448.4" y2="104.1" stroke="#0000cc" stroke-width="3.3" stroke-dasharray="12.5 2.6 6.5 2.6"/>
<text x="451.8" y="113.40" class="lg">m=<tspan class="one">1</tspan>.0</text>
<line x1="400.4" y1="135.6" x2="448.4" y2="135.6" stroke="#0ee6cc" stroke-width="3.3" stroke-dasharray="12.8 11.2"/>
<text x="451.8" y="144.90" class="lg">m=<tspan class="one">1</tspan>.5</text>
<line x1="400.4" y1="166.9" x2="448.4" y2="166.9" stroke="#e000e0" stroke-width="3.3"/>
<text x="451.8" y="176.20" class="lg">m=2.0</text>
<g transform="translate(310.7,441)"><path d="M3.5,-8.6 C1.3,-7.6 -0.7,-5.7 -0.8,-3.6 C-0.8,-2.2 0.3,-1.7 3.9,-1.8 M0.5,-1.3 C-2.2,-0.5 -4.1,1.3 -4.0,3.2 C-3.9,5 -1.7,5.8 0.3,6.5 C1.9,7.1 2.2,8.2 0.9,8.8 C-0.1,9.2 -1.3,8.9 -2.1,8.4" fill="none" stroke="#000" stroke-width="1.9" stroke-linecap="round"/><circle cx="3.3" cy="-8.7" r="1.2" fill="#000"/></g>
<g transform="translate(27.5,220) rotate(-90)" class="yl"><text x="-0.8" y="0" font-family="Liberation Sans" font-style="italic" font-weight="bold" font-size="21px">f</text></g>
<g transform="translate(22.8,189.7) rotate(-90)"><path d="M3.5,-8.6 C1.3,-7.6 -0.7,-5.7 -0.8,-3.6 C-0.8,-2.2 0.3,-1.7 3.9,-1.8 M0.5,-1.3 C-2.2,-0.5 -4.1,1.3 -4.0,3.2 C-3.9,5 -1.7,5.8 0.3,6.5 C1.9,7.1 2.2,8.2 0.9,8.8 C-0.1,9.2 -1.3,8.9 -2.1,8.4" fill="none" stroke="#000" stroke-width="1.9" stroke-linecap="round"/><circle cx="3.3" cy="-8.7" r="1.2" fill="#000"/></g>
<path d="M12.6,182.9 Q20,176.5 32.4,187.3 M12.6,195.3 Q21,205.5 32.4,199.3" fill="none" stroke="#000" stroke-width="1.8" stroke-linecap="round"/>
<line x1="8.6" y1="203.5" x2="16" y2="207.7" stroke="#000" stroke-width="1.7" stroke-linecap="round"/>
<path d="M478,0 L478,1170 L140,959 L140,1180 L493,1409 L759,1409 L759,0 Z" transform="translate(61.32,162.31) scale(0.009277,-0.009277)" fill="#000"/>
<path d="M478,0 L478,1170 L140,959 L140,1180 L493,1409 L759,1409 L759,0 Z" transform="translate(50.74,114.17) scale(0.009277,-0.009277)" fill="#000"/>
<path d="M478,0 L478,1170 L140,959 L140,1180 L493,1409 L759,1409 L759,0 Z" transform="translate(50.74,66.04) scale(0.009277,-0.009277)" fill="#000"/>
<path d="M478,0 L478,1170 L140,959 L140,1180 L493,1409 L759,1409 L759,0 Z" transform="translate(50.74,17.90) scale(0.009277,-0.009277)" fill="#000"/>
<path d="M478,0 L478,1170 L140,959 L140,1180 L493,1409 L759,1409 L759,0 Z" transform="translate(373.42,420.30) scale(0.009277,-0.009277)" fill="#000"/>
<path d="M478,0 L478,1170 L140,959 L140,1180 L493,1409 L759,1409 L759,0 Z" transform="translate(526.72,420.30) scale(0.009277,-0.009277)" fill="#000"/>
<path d="M478,0 L478,1170 L140,959 L140,1180 L493,1409 L759,1409 L759,0 Z" transform="translate(486.42,113.40) scale(0.011475,-0.011475)" fill="#000"/>
<path d="M478,0 L478,1170 L140,959 L140,1180 L493,1409 L759,1409 L759,0 Z" transform="translate(486.42,144.90) scale(0.011475,-0.011475)" fill="#000"/>
</svg>
</body></html>
